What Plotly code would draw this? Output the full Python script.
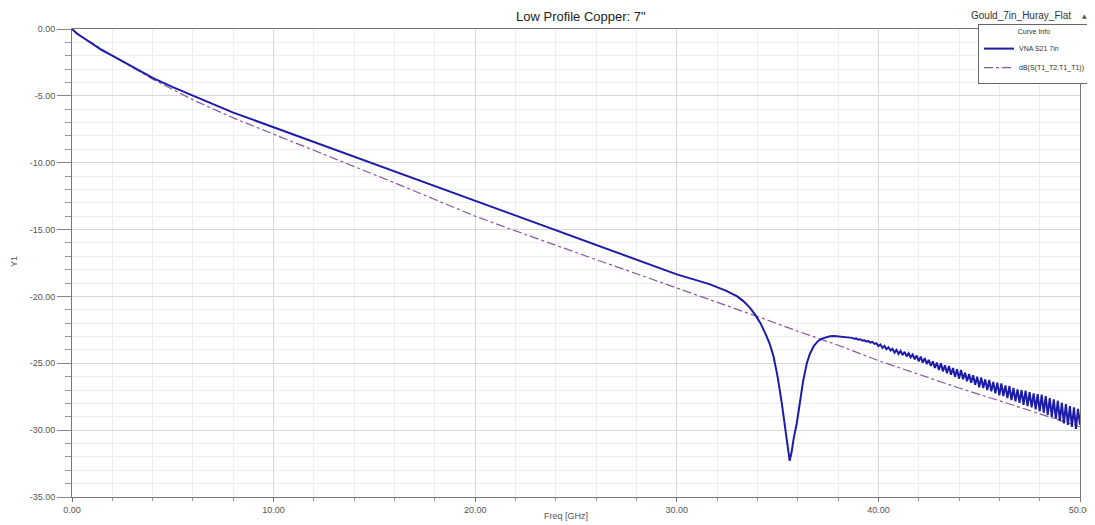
import plotly.graph_objects as go

# ---- measured trace (VNA S21 7in) ----
meas_f = [0, 0.25, 0.5, 1, 1.5, 2, 3, 4, 5, 6, 7, 8, 9, 10, 12, 14, 16, 18, 20, 22, 24, 26, 28, 29, 30, 31,
          31.65, 32.4, 33.0, 33.3, 33.6, 33.9, 34.15, 34.4, 34.6, 34.8, 35.0, 35.2, 35.35, 35.5, 35.6, 35.7,
          35.8, 35.95, 36.1, 36.27, 36.45, 36.6, 36.8, 37.0, 37.2, 37.4, 37.6, 37.8,
          38.0, 38.1, 38.2, 38.3, 38.4, 38.5, 38.6, 38.7, 38.8, 38.9, 39.0, 39.1, 39.2, 39.3, 39.4, 39.5,
          39.6, 39.7, 39.8, 39.9, 40.0, 40.1, 40.2, 40.3, 40.4, 40.5, 40.6, 40.7, 40.8, 40.9, 41.0, 41.1,
          41.2, 41.3, 41.4, 41.5, 41.6, 41.7, 41.8, 41.9, 42.0, 42.1, 42.2, 42.3, 42.4, 42.5, 42.6, 42.7,
          42.8, 42.9, 43.0, 43.1, 43.2, 43.3, 43.4, 43.5, 43.6, 43.7, 43.8, 43.9, 44.0, 44.1, 44.2, 44.3,
          44.4, 44.5, 44.6, 44.7, 44.8, 44.9, 45.0, 45.1, 45.2, 45.3, 45.4, 45.5, 45.6, 45.7, 45.8, 45.9,
          46.0, 46.1, 46.2, 46.3, 46.4, 46.5, 46.6, 46.7, 46.8, 46.9, 47.0, 47.1, 47.2, 47.3, 47.4, 47.5,
          47.6, 47.7, 47.8, 47.9, 48.0, 48.1, 48.2, 48.3, 48.4, 48.5, 48.6, 48.7, 48.8, 48.9, 49.0, 49.1,
          49.2, 49.3, 49.4, 49.5, 49.6, 49.7, 49.8, 49.9, 50.0]
meas_db = [0, -0.35, -0.6, -1.1, -1.6, -2.0, -2.85, -3.65, -4.35, -5.0, -5.65, -6.25, -6.8, -7.35, -8.45,
           -9.55, -10.65, -11.75, -12.9, -14.0, -15.1, -16.15, -17.25, -17.8, -18.35, -18.8,
           -19.1, -19.55, -20.0, -20.35, -20.8, -21.4, -22.0, -22.8, -23.5, -24.5, -26.0, -27.9, -29.6, -31.2,
           -32.3, -31.6, -30.6, -29.5, -27.9, -26.3, -25.0, -24.3, -23.7, -23.35, -23.15, -23.05, -22.98, -22.96,
           -23.00, -22.98, -23.04, -23.02, -23.08, -23.05, -23.12, -23.10, -23.17, -23.14, -23.24, -23.20,
           -23.30, -23.28, -23.36, -23.34, -23.45, -23.40, -23.55, -23.50, -23.72, -23.60, -23.85, -23.70,
           -23.95, -23.80, -24.05, -23.92, -24.20, -24.00, -24.30, -24.08, -24.38, -24.15, -24.48, -24.25,
           -24.55, -24.35, -24.70, -24.42, -24.85, -24.50, -24.95, -24.62, -25.05, -24.75, -25.20, -24.85,
           -25.35, -24.95, -25.50, -25.00, -25.60, -25.15, -25.75, -25.20, -25.85, -25.35, -26.00, -25.45,
           -26.15, -25.50, -26.20, -25.70, -26.35, -25.80, -26.45, -25.90, -26.60, -26.00, -26.80, -26.05,
           -26.85, -26.20, -27.00, -26.25, -27.10, -26.40, -27.25, -26.45, -27.40, -26.50, -27.45, -26.65,
           -27.60, -26.70, -27.75, -26.85, -27.85, -26.95, -27.95, -27.00, -28.10, -27.05, -28.20, -27.15,
           -28.30, -27.25, -28.45, -27.30, -28.60, -27.35, -28.70, -27.45, -28.85, -27.60, -29.00, -27.70,
           -29.15, -27.80, -29.30, -27.95, -29.50, -28.05, -29.60, -28.20, -29.75, -28.30, -29.90, -28.40,
           -29.60]

# ---- simulated trace dB(S(T1_T2,T1_T1)) ----
sim_f = [0, 0.5, 1, 2, 4, 6, 8, 10, 12, 14, 16, 18, 20, 22, 24, 26, 28, 30, 32, 34, 36, 38, 40, 42, 44, 46, 48, 50]
sim_db = [0, -0.6, -1.05, -2.0, -3.75, -5.3, -6.65, -7.85, -9.1, -10.3, -11.5, -12.75, -14.0, -15.1, -16.2,
          -17.25, -18.3, -19.35, -20.4, -21.5, -22.6, -23.65, -24.8, -25.85, -26.85, -27.8, -28.75, -29.75]

x_ticks = [0, 10, 20, 30, 40, 50]
x_ticklabels = ["0.00", "10.00", "20.00", "30.00", "40.00", "50.00"]
y_ticks = [0, -5, -10, -15, -20, -25, -30, -35]
y_ticklabels = ["0.00", "-5.00", "-10.00", "-15.00", "-20.00", "-25.00", "-30.00", "-35.00"]

FONT = "Liberation Sans, Arial, sans-serif"
OFF = 8  # page body margin offsets the figure by 8 px
W, H = 1095 - OFF, 525 - OFF
L, T = 72 - OFF, 29 - OFF
R, B = W - (1080 - OFF), H - (497 - OFF)
PW, PH = W - L - R, H - T - B


def px_x(px):
    return (px - OFF - L) / PW


def px_y(py):
    return 1 - (py - OFF - T) / PH


fig = go.Figure()
fig.add_trace(go.Scatter(x=sim_f, y=sim_db, mode="lines", name="dB(S(T1_T2,T1_T1))",
                         line=dict(color="#8a5a9a", width=1.2, dash="dashdot")))
fig.add_trace(go.Scatter(x=meas_f, y=meas_db, mode="lines", name="VNA S21 7in",
                         line=dict(color="#1c1ca8", width=2)))

fig.update_layout(
    width=W, height=H,
    margin=dict(l=L, r=R, t=T, b=B, autoexpand=False),
    paper_bgcolor="white", plot_bgcolor="white",
    font=dict(family=FONT, size=9, color="#555555"),
    showlegend=True,
    legend=dict(x=px_x(1090), y=px_y(24), xanchor="right", yanchor="top", traceorder="reversed",
                bgcolor="white", bordercolor="#666666", borderwidth=1,
                font=dict(family=FONT, size=7, color="#333333"),
                title=dict(text="Curve Info", side="top center", font=dict(size=7, color="#333333")),
                itemwidth=30, tracegroupgap=0),
)
fig.add_annotation(text='Low Profile Copper: 7"', x=px_x(581), y=px_y(16), xref="paper", yref="paper",
                   xanchor="center", yanchor="middle", showarrow=False,
                   font=dict(family=FONT, size=13, color="#222222"))
fig.add_annotation(text="Gould_7in_Huray_Flat", x=px_x(1073), y=px_y(15), xref="paper", yref="paper",
                   xanchor="right", yanchor="middle", showarrow=False,
                   font=dict(family=FONT, size=10, color="#333333"))
fig.add_annotation(text="▲", x=px_x(1084), y=px_y(15), xref="paper", yref="paper",
                   xanchor="center", yanchor="middle", showarrow=False,
                   font=dict(family="DejaVu Sans", size=6, color="#555555"))
fig.add_annotation(text="Y1", x=px_x(14), y=px_y(262), xref="paper", yref="paper", textangle=-90,
                   xanchor="center", yanchor="middle", showarrow=False,
                   font=dict(family=FONT, size=9, color="#555555"))
fig.add_annotation(text="Freq [GHz]", x=px_x(566), y=px_y(516), xref="paper", yref="paper",
                   xanchor="center", yanchor="middle", showarrow=False,
                   font=dict(family=FONT, size=9, color="#555555"))

fig.update_xaxes(
    range=[0, 50], tickvals=x_ticks, ticktext=x_ticklabels, automargin=False,
    showgrid=True, gridcolor="#d6d6d6", gridwidth=1,
    showline=True, linecolor="#777777", linewidth=1, mirror=True,
    ticks="outside", ticklen=4, tickcolor="#777777", zeroline=False,
    minor=dict(dtick=2, showgrid=True, gridcolor="#eeeeee", ticks="outside", ticklen=3, tickcolor="#999999"),
    tickfont=dict(family=FONT, size=9, color="#555555"),
)
fig.update_yaxes(
    range=[-35, 0], tickvals=y_ticks, ticktext=y_ticklabels, automargin=False,
    showgrid=True, gridcolor="#d6d6d6", gridwidth=1,
    showline=True, linecolor="#777777", linewidth=1, mirror=True,
    ticks="outside", ticklen=14, tickcolor="#888888", zeroline=False,
    minor=dict(dtick=1, showgrid=True, gridcolor="#eeeeee", ticks="outside", ticklen=6, tickcolor="#999999"),
    tickfont=dict(family=FONT, size=9, color="#555555"),
)

fig.write_html("out.html")
